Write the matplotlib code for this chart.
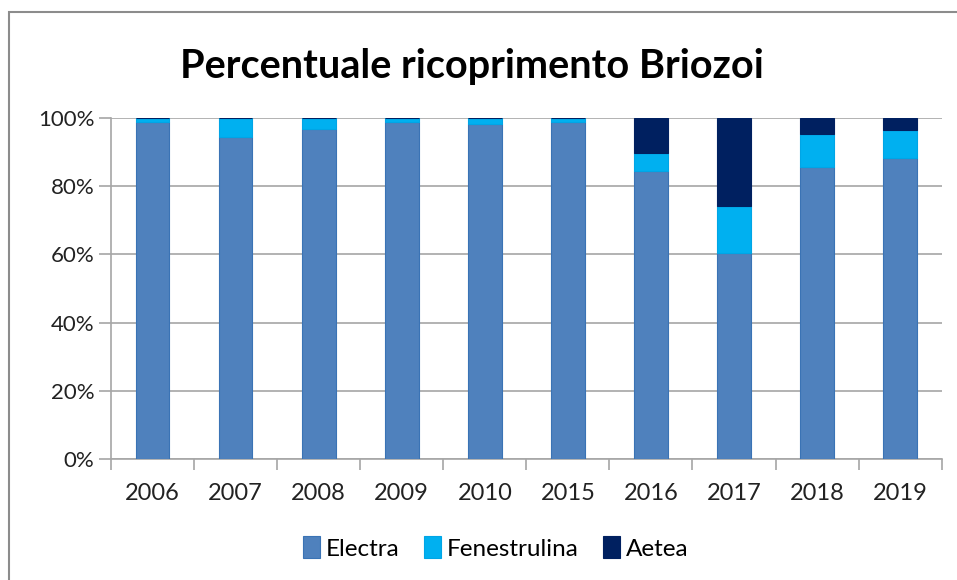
#Importing needed modules
import numpy as np
import matplotlib.pyplot as plt
from matplotlib.patches import Rectangle
from matplotlib.ticker import PercentFormatter

plt.rcParams['font.family'] = ['Lato', 'DejaVu Sans']

#Data (percent of coverage)
years = ['2006', '2007', '2008', '2009', '2010', '2015', '2016', '2017', '2018', '2019']
electra = [98.7, 94.5, 96.8, 98.7, 98.3, 98.7, 84.5, 60.3, 85.5, 88.2]
fenestrulina = [1.3, 5.5, 3.2, 1.3, 1.7, 1.3, 5.1, 13.9, 9.8, 8.2]
aetea = [0, 0, 0, 0, 0, 0, 10.4, 25.8, 4.7, 3.6]

fig = plt.figure(figsize=(9.57, 5.8), dpi=100)
ax = fig.add_axes([0.116, 0.2086, 0.868, 0.5880])

x = np.arange(len(years))
w = 0.405
electra = np.array(electra)
fenestrulina = np.array(fenestrulina)
aetea = np.array(aetea)

ax.bar(x, electra, w, color='#4F81BD', edgecolor='#3A73B5', linewidth=0.8, label='Electra', zorder=3)
ax.bar(x, fenestrulina, w, bottom=electra, color='#00B0F0', edgecolor='#00A5E6', linewidth=0.8, label='Fenestrulina', zorder=3)
ax.bar(x, aetea, w, bottom=electra + fenestrulina, color='#002060', edgecolor='#002060', linewidth=0.8, label='Aetea', zorder=3)

#Axes formatting
ax.set_xlim(-0.5, len(years) - 0.5)
ax.set_ylim(0, 100)
ax.set_yticks(np.arange(0, 101, 20))
ax.yaxis.set_major_formatter(PercentFormatter(decimals=0))
ax.set_xticks(x)
ax.set_xticklabels(years)
ax.set_xticks(np.arange(-0.5, len(years), 1), minor=True)
ax.tick_params(axis='x', which='major', length=0, pad=17, labelsize=17, labelcolor='#222222')
ax.tick_params(axis='x', which='minor', length=8, color='#A6A6A6', width=1.2)
ax.tick_params(axis='y', length=9, color='#A6A6A6', width=1.2, pad=3, labelsize=16, labelcolor='#222222')
ax.grid(axis='y', color='#A6A6A6', linewidth=1.2, zorder=0)
for s in ['top', 'right']:
    ax.spines[s].set_visible(False)
ax.spines['left'].set_color('#A6A6A6')
ax.spines['bottom'].set_color('#A6A6A6')
ax.spines['left'].set_linewidth(1.2)
ax.spines['bottom'].set_linewidth(1.2)

#Title and legend
fig.text(0.493, 0.886, 'Percentuale ricoprimento Briozoi', ha='center', va='center',
         fontsize=28.5, fontweight='bold', color='black')
fig.legend(loc='center', bbox_to_anchor=(0.518, 0.055), ncol=3, frameon=False,
           fontsize=17.5, handlelength=0.7, handleheight=1.0, handletextpad=0.25, columnspacing=1.0)

#Chart border
fig.patches.append(Rectangle((9 / 957, -0.1), 1.2, 0.1 + 1 - 12 / 580, transform=fig.transFigure,
                             fill=False, edgecolor='#8C8C8C', linewidth=1.5))

plt.savefig('out.png', dpi=100)
